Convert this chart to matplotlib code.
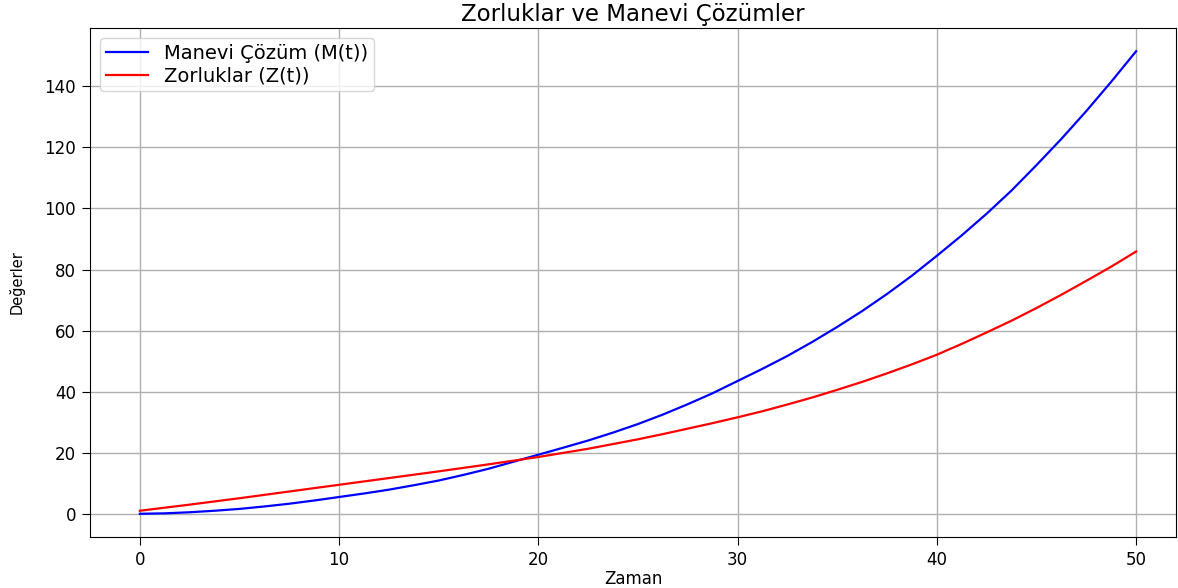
import matplotlib
matplotlib.use("Agg")
import matplotlib.pyplot as plt

# Data
t_values = [0, 1.25, 2.5, 3.75, 5, 6.25, 7.5, 8.75, 10, 11.25, 12.5, 13.75,
            15, 16.25, 17.5, 18.75, 20, 21.25, 22.5, 23.75, 25, 26.25, 27.5,
            28.75, 30, 31.25, 32.5, 33.75, 35, 36.25, 37.5, 38.75, 40, 41.25,
            42.5, 43.75, 45, 46.25, 47.5, 48.75, 50]
manevi_cozum = [0.0, 0.15, 0.5, 1.0, 1.6, 2.4, 3.3, 4.35, 5.5, 6.65, 7.9,
                9.35, 10.9, 12.75, 14.75, 17.05, 19.35, 21.65, 24.0, 26.6,
                29.4, 32.5, 35.9, 39.5, 43.5, 47.5, 51.7, 56.3, 61.2, 66.4,
                72.0, 78.0, 84.5, 91.2, 98.3, 105.9, 114.2, 122.8, 131.9,
                141.5, 151.5]
zorluklar = [1.0, 2.0, 3.0, 4.05, 5.1, 6.2, 7.3, 8.4, 9.5, 10.6, 11.7, 12.8,
             13.9, 15.05, 16.2, 17.4, 18.6, 19.95, 21.3, 22.85, 24.4, 26.1,
             27.9, 29.7, 31.6, 33.6, 35.8, 38.1, 40.6, 43.2, 46.0, 48.95,
             52.1, 55.65, 59.4, 63.25, 67.4, 71.75, 76.3, 80.95, 85.9]
x_ticks = [0, 10, 20, 30, 40, 50]
y_ticks = [0, 20, 40, 60, 80, 100, 120, 140]

fig = plt.figure(figsize=(11.78, 5.88), dpi=100)
ax = fig.add_axes([90 / 1178, 1 - 537 / 588, (1176 - 90) / 1178, (537 - 28) / 588])

ax.plot(t_values, manevi_cozum, color="blue", lw=1.6, label="Manevi Çözüm (M(t))")
ax.plot(t_values, zorluklar, color="red", lw=1.6, label="Zorluklar (Z(t))")

ax.set_xlim(-2.5, 52.0)
ax.set_ylim(-7.6, 159.1)
ax.set_xticks(x_ticks)
ax.set_yticks(y_ticks)
ax.tick_params(labelsize=12, length=6, pad=4)
ax.grid(True, color="#b0b0b0", lw=1.0)

ax.set_title("Zorluklar ve Manevi Çözümler", fontsize=16.5, pad=5)
ax.set_xlabel("Zaman", fontsize=12, labelpad=1)
ax.set_ylabel("Değerler", fontsize=10.5, labelpad=14)
ax.legend(loc="upper left", fontsize=14, handlelength=2.2,
          labelspacing=0.2, borderpad=0.3, borderaxespad=0.5)

fig.savefig("out.png", dpi=100)
